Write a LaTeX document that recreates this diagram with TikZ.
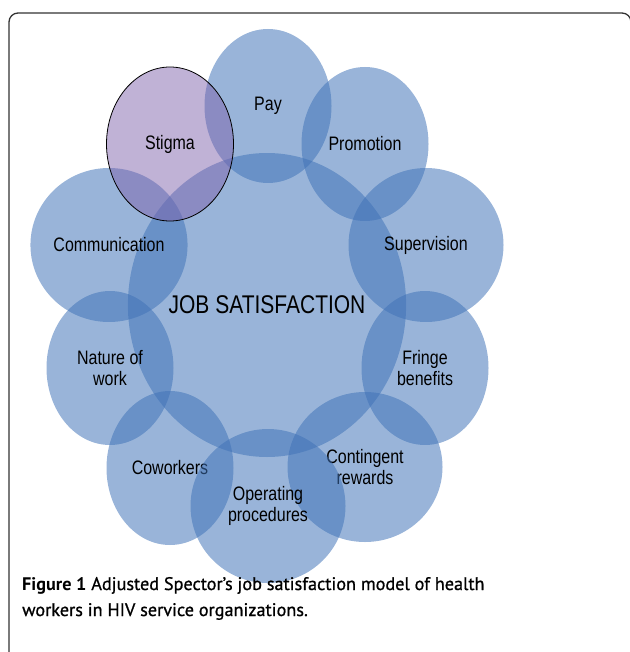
\documentclass[tikz,border=0pt]{standalone}
\usepackage{fontspec}
\setmainfont{Liberation Sans}
\newfontfamily\bubblefont[FakeStretch=0.82]{Liberation Sans}
\newfontfamily\capfont[UprightFeatures={FakeBold=0.9}]{PT Sans}
\usepackage{tikz}
\usetikzlibrary{shapes.geometric, positioning}

\definecolor{bubbleblue}{RGB}{63,114,183}
\definecolor{stigmapurple}{RGB}{126,97,171}

\begin{document}
\begin{tikzpicture}[x=1pt, y=-1pt,
        bubble/.style={ellipse, fill=bubbleblue, fill opacity=0.53, text opacity=1,
            inner sep=0pt, align=center, font=\bubblefont\fontsize{19.5}{21}\selectfont},
        narrow/.style={bubble, minimum width=127pt, minimum height=154pt},
        wide/.style={bubble, minimum width=155pt, minimum height=154pt}]
        \useasboundingbox (0,0) rectangle (629,652);
        % Frame
        \draw[line width=1.3pt, draw=black!80, rounded corners=9pt] (9,13) rectangle (631,680);

        % Centre
        \node[bubble, minimum width=255pt, minimum height=304pt,
            font=\bubblefont\fontsize{25.6}{28}\selectfont] (jobsat) at (267,305) {JOB SATISFACTION};

        % Ring of bubbles
        \node[narrow] (pay) at (268,106) {Pay};
        \node[narrow] (promo) at (365,144) {Promotion};
        \node[wide] (comm) at (109,245) {Communication};
        \node[wide] (superv) at (426,245) {Supervision};
        \node[narrow] (nature) at (110,368) {Nature of\\work};
        \node[narrow] (fringe) at (425,368) {Fringe\\benefits};
        \node[narrow] (cowork) at (170,468) {Coworkers};
        \node[wide, minimum height=150pt] (conting) at (365,467) {Contingent\\rewards};
        \node[wide] (oper) at (268,506) {Operating\\procedures};

        % Stigma
        \node[narrow, draw=black, line width=0.8pt, fill=stigmapurple, fill opacity=0.49,
            draw opacity=1] (stigma) at (170,144) {Stigma};

        % Caption
        \node[anchor=base west, align=left, inner sep=0pt,
            font=\capfont\fontsize{18.2}{26}\selectfont] (caption) at (22,616)
            {\textbf{Figure 1} Adjusted Spector’s job satisfaction model of health\\
             workers in HIV service organizations.};
\end{tikzpicture}
\end{document}
